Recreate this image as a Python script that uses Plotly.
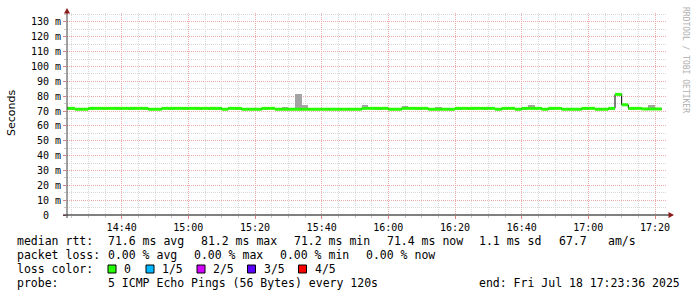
import plotly.graph_objects as go
from datetime import datetime, timedelta

# ---------------- data ----------------
sample_start = datetime(2025, 7, 18, 14, 22, 0)
step_minutes = 2
view_start = "2025-07-18 14:23:36"
view_end = "2025-07-18 17:23:36"

median_ms = [
    71.8, 71.8, 71.2, 71.2, 71.8, 71.8, 71.8, 71.8, 71.8, 71.8,
    71.8, 71.8, 71.8, 71.2, 71.2, 71.8, 71.8, 71.8, 71.8, 71.8,
    71.8, 71.8, 71.8, 71.8, 71.2, 71.8, 71.8, 71.2, 71.2, 71.2,
    71.8, 71.8, 71.2, 71.2, 71.2, 71.2, 71.2, 71.2, 71.2, 71.2,
    71.2, 71.2, 71.2, 71.2, 71.2, 71.8, 71.8, 71.8, 71.8, 71.2,
    71.2, 71.8, 71.8, 71.8, 71.8, 71.2, 71.2, 71.2, 71.2, 71.8,
    71.8, 71.8, 71.8, 71.8, 71.8, 71.2, 71.8, 71.8, 71.2, 71.8,
    71.8, 71.8, 71.2, 71.8, 71.8, 71.2, 71.2, 71.2, 71.8, 71.8,
    71.2, 71.2, 71.8, 81.2, 74.2, 71.8, 71.8, 71.4, 71.4, 71.4,
]
smoke_max_ms = [
    72.3, 72.4, 71.7, 71.8, 72.3, 72.2, 72.4, 72.3, 72.2, 72.3,
    72.3, 72.2, 72.4, 71.7, 71.8, 72.3, 72.2, 72.3, 72.4, 72.2,
    72.3, 72.2, 72.3, 72.4, 71.7, 72.3, 72.2, 71.8, 71.7, 71.8,
    72.3, 72.2, 71.7, 73.0, 71.8, 81.5, 74.1, 71.7, 71.8, 71.7,
    71.8, 71.7, 71.8, 71.7, 71.8, 73.8, 72.3, 72.2, 72.3, 71.7,
    71.8, 73.5, 72.3, 72.2, 72.4, 71.7, 72.9, 71.8, 71.7, 72.3,
    72.2, 72.3, 72.4, 72.2, 72.3, 71.7, 72.2, 72.3, 71.8, 72.3,
    74.3, 72.2, 71.7, 72.3, 72.2, 71.8, 71.7, 71.8, 72.3, 72.2,
    71.7, 71.8, 72.3, 81.6, 74.6, 72.3, 72.2, 71.8, 74.3, 71.9,
]
smoke_min_ms = [
    71.4, 71.3, 70.8, 70.8, 71.3, 71.4, 71.3, 71.4, 71.3, 71.4,
    71.3, 71.4, 71.3, 70.8, 70.8, 71.4, 71.3, 71.4, 71.3, 71.4,
    71.3, 71.4, 71.3, 71.3, 70.8, 71.4, 71.3, 70.8, 70.8, 70.8,
    71.3, 71.4, 70.8, 70.8, 70.8, 70.9, 70.8, 70.8, 70.8, 70.8,
    70.8, 70.8, 70.8, 70.8, 70.8, 71.3, 71.4, 71.3, 71.4, 70.8,
    70.8, 71.3, 71.4, 71.3, 71.4, 70.8, 70.8, 70.8, 70.8, 71.3,
    71.4, 71.3, 71.4, 71.3, 71.4, 70.8, 71.3, 71.4, 70.8, 71.3,
    71.3, 71.4, 70.8, 71.3, 71.4, 70.8, 70.8, 70.8, 71.3, 71.4,
    70.8, 70.8, 71.3, 80.8, 73.8, 71.3, 71.4, 71.0, 71.0, 71.0,
]

y_tick_values = [0, 10, 20, 30, 40, 50, 60, 70, 80, 90, 100, 110, 120, 130]
y_tick_labels = ["0\u00a0\u00a0", "10 m", "20 m", "30 m", "40 m", "50 m", "60 m",
                 "70 m", "80 m", "90 m", "100 m", "110 m", "120 m", "130 m"]

loss_labels = ["0", "1/5", "2/5", "3/5", "4/5"]
loss_colors = ["#26ff00", "#00b8ff", "#d400ff", "#5a00ff", "#ff0000"]

legend_lines = [
    ("median rtt:", "71.6 ms avg", "81.2 ms max", "71.2 ms min", "71.4 ms now", "1.1 ms sd", "67.7", "am/s"),
    ("packet loss:", "0.00 % avg", "0.00 % max", "0.00 % min", "0.00 % now"),
]
probe_text = "5 ICMP Echo Pings (56 Bytes) every 120s"
end_text = "end: Fri Jul 18 17:23:36 2025"
watermark = "RRDTOOL / TOBI OETIKER"

# ---------------- geometry ----------------
W, H = 697, 297
PL, PR, PT, PB = 67, 667, 13, 215
Y_MAX = 136


def px(x):
    return (x - PL) / (PR - PL)


def py(y):
    return (PB - y) / (PB - PT)


step = timedelta(minutes=step_minutes)
starts = [sample_start + i * step for i in range(len(median_ms))]
ends = [s + step for s in starts]
centers = [s + step / 2 for s in starts]

fig = go.Figure()

# smoke
fig.add_trace(go.Bar(
    x=centers, base=smoke_min_ms,
    y=[hi - lo for hi, lo in zip(smoke_max_ms, smoke_min_ms)],
    width=step.total_seconds() * 1000,
    marker=dict(color="#a4a4a4", line=dict(width=0)),
    hoverinfo="skip",
))

# black median step line
fig.add_trace(go.Scatter(
    x=starts + [ends[-1]], y=median_ms + [median_ms[-1]],
    mode="lines", line=dict(color="#000000", width=1, shape="hv"),
    hoverinfo="skip",
))

# loss coloured band (horizontal segments only)
gx, gy = [], []
for s, e, v in zip(starts, ends, median_ms):
    gx += [s, e, None]
    gy += [v, v, None]
fig.add_trace(go.Scatter(
    x=gx, y=gy, mode="lines", connectgaps=False,
    line=dict(color=loss_colors[0], width=3),
    hoverinfo="skip",
))

mono = "DejaVu Sans Mono"
MAJ = "#eeaaaa"
MIN = "#d8d8d8"

fig.update_layout(
    width=W, height=H,
    margin=dict(l=PL, r=W - PR, t=PT, b=H - PB),
    paper_bgcolor="white", plot_bgcolor="white",
    showlegend=False, barmode="overlay", bargap=0,
    xaxis=dict(
        type="date", range=[view_start, view_end],
        tickformat="%H:%M", dtick=20 * 60 * 1000, tick0="2025-07-18 14:40:00",
        showgrid=True, gridcolor=MAJ, gridwidth=1, griddash="1px,1px",
        ticks="outside", ticklen=3, tickcolor="#e08080", tickwidth=1,
        minor=dict(dtick=5 * 60 * 1000, tick0="2025-07-18 14:40:00", showgrid=True,
                   gridcolor=MIN, griddash="1px,1px", ticks="outside", ticklen=2,
                   tickcolor="#c8c8c8"),
        tickfont=dict(family=mono, size=10, color="#000000"),
        showline=False, zeroline=False, fixedrange=True,
    ),
    yaxis=dict(
        range=[0, Y_MAX], tickvals=y_tick_values, ticktext=y_tick_labels,
        showgrid=True, gridcolor=MAJ, gridwidth=1, griddash="1px,1px",
        ticks="outside", ticklen=3, tickcolor="#e08080", tickwidth=1,
        minor=dict(dtick=5, tick0=0, showgrid=True, gridcolor=MIN,
                   griddash="1px,1px", ticks="outside", ticklen=2, tickcolor="#c8c8c8"),
        tickfont=dict(family=mono, size=10, color="#000000"),
        showline=False, zeroline=False, fixedrange=True,
    ),
)

shapes = []
# axes
shapes.append(dict(type="line", xref="paper", yref="paper", x0=px(63), x1=px(669), y0=py(215), y1=py(215),
                   line=dict(color="#000000", width=1), layer="above"))
shapes.append(dict(type="line", xref="paper", yref="paper", x0=px(67), x1=px(67), y0=py(218), y1=py(11),
                   line=dict(color="#404040", width=1), layer="above"))
# arrows
shapes.append(dict(type="path", xref="paper", yref="paper",
                   path=f"M {px(64)} {py(13.5)} L {px(70)} {py(13.5)} L {px(67)} {py(8)} Z",
                   fillcolor="#8b1a1a", line=dict(width=0), layer="above"))
shapes.append(dict(type="path", xref="paper", yref="paper",
                   path=f"M {px(668.5)} {py(212)} L {px(668.5)} {py(218)} L {px(674)} {py(215)} Z",
                   fillcolor="#8b1a1a", line=dict(width=0), layer="above"))

annotations = []


def text_at(x, y, t, size=11.5, color="#000000", family=mono, angle=0, xanchor="left"):
    annotations.append(dict(
        xref="paper", yref="paper", x=px(x), y=py(y), text=t, showarrow=False,
        xanchor=xanchor, yanchor="middle", textangle=angle, borderpad=0,
        font=dict(family=family, size=size, color=color),
    ))


# y-axis title and watermark
text_at(11, 113, "Seconds", size=11, family="DejaVu Sans", angle=-90, xanchor="center")
text_at(686, 60, watermark, size=8, color="#b0b0b0", angle=90, xanchor="center")

# legend text
row_y = [241.5, 255, 269, 283]
x_line1 = [16, 107, 200, 293, 385.5, 478, 558, 607]
for x, t in zip(x_line1, legend_lines[0]):
    text_at(x, row_y[0], t)
x_line2 = [16, 107, 193, 279, 365]
for x, t in zip(x_line2, legend_lines[1]):
    text_at(x, row_y[1], t)

text_at(16, row_y[2], "loss color:")
sq_x = [108, 146, 197, 247.5, 298.5]
for sx, lab, col in zip(sq_x, loss_labels, loss_colors):
    shapes.append(dict(type="rect", xref="paper", yref="paper",
                       x0=px(sx), x1=px(sx + 8), y0=py(273), y1=py(265),
                       fillcolor=col, line=dict(color="#000000", width=1), layer="above"))
    text_at(sx + 15, row_y[2], lab)

text_at(16, row_y[3], "probe:")
text_at(107, row_y[3], probe_text)
text_at(478, row_y[3], end_text)

fig.update_layout(shapes=shapes, annotations=annotations)
fig.write_html("out.html")
